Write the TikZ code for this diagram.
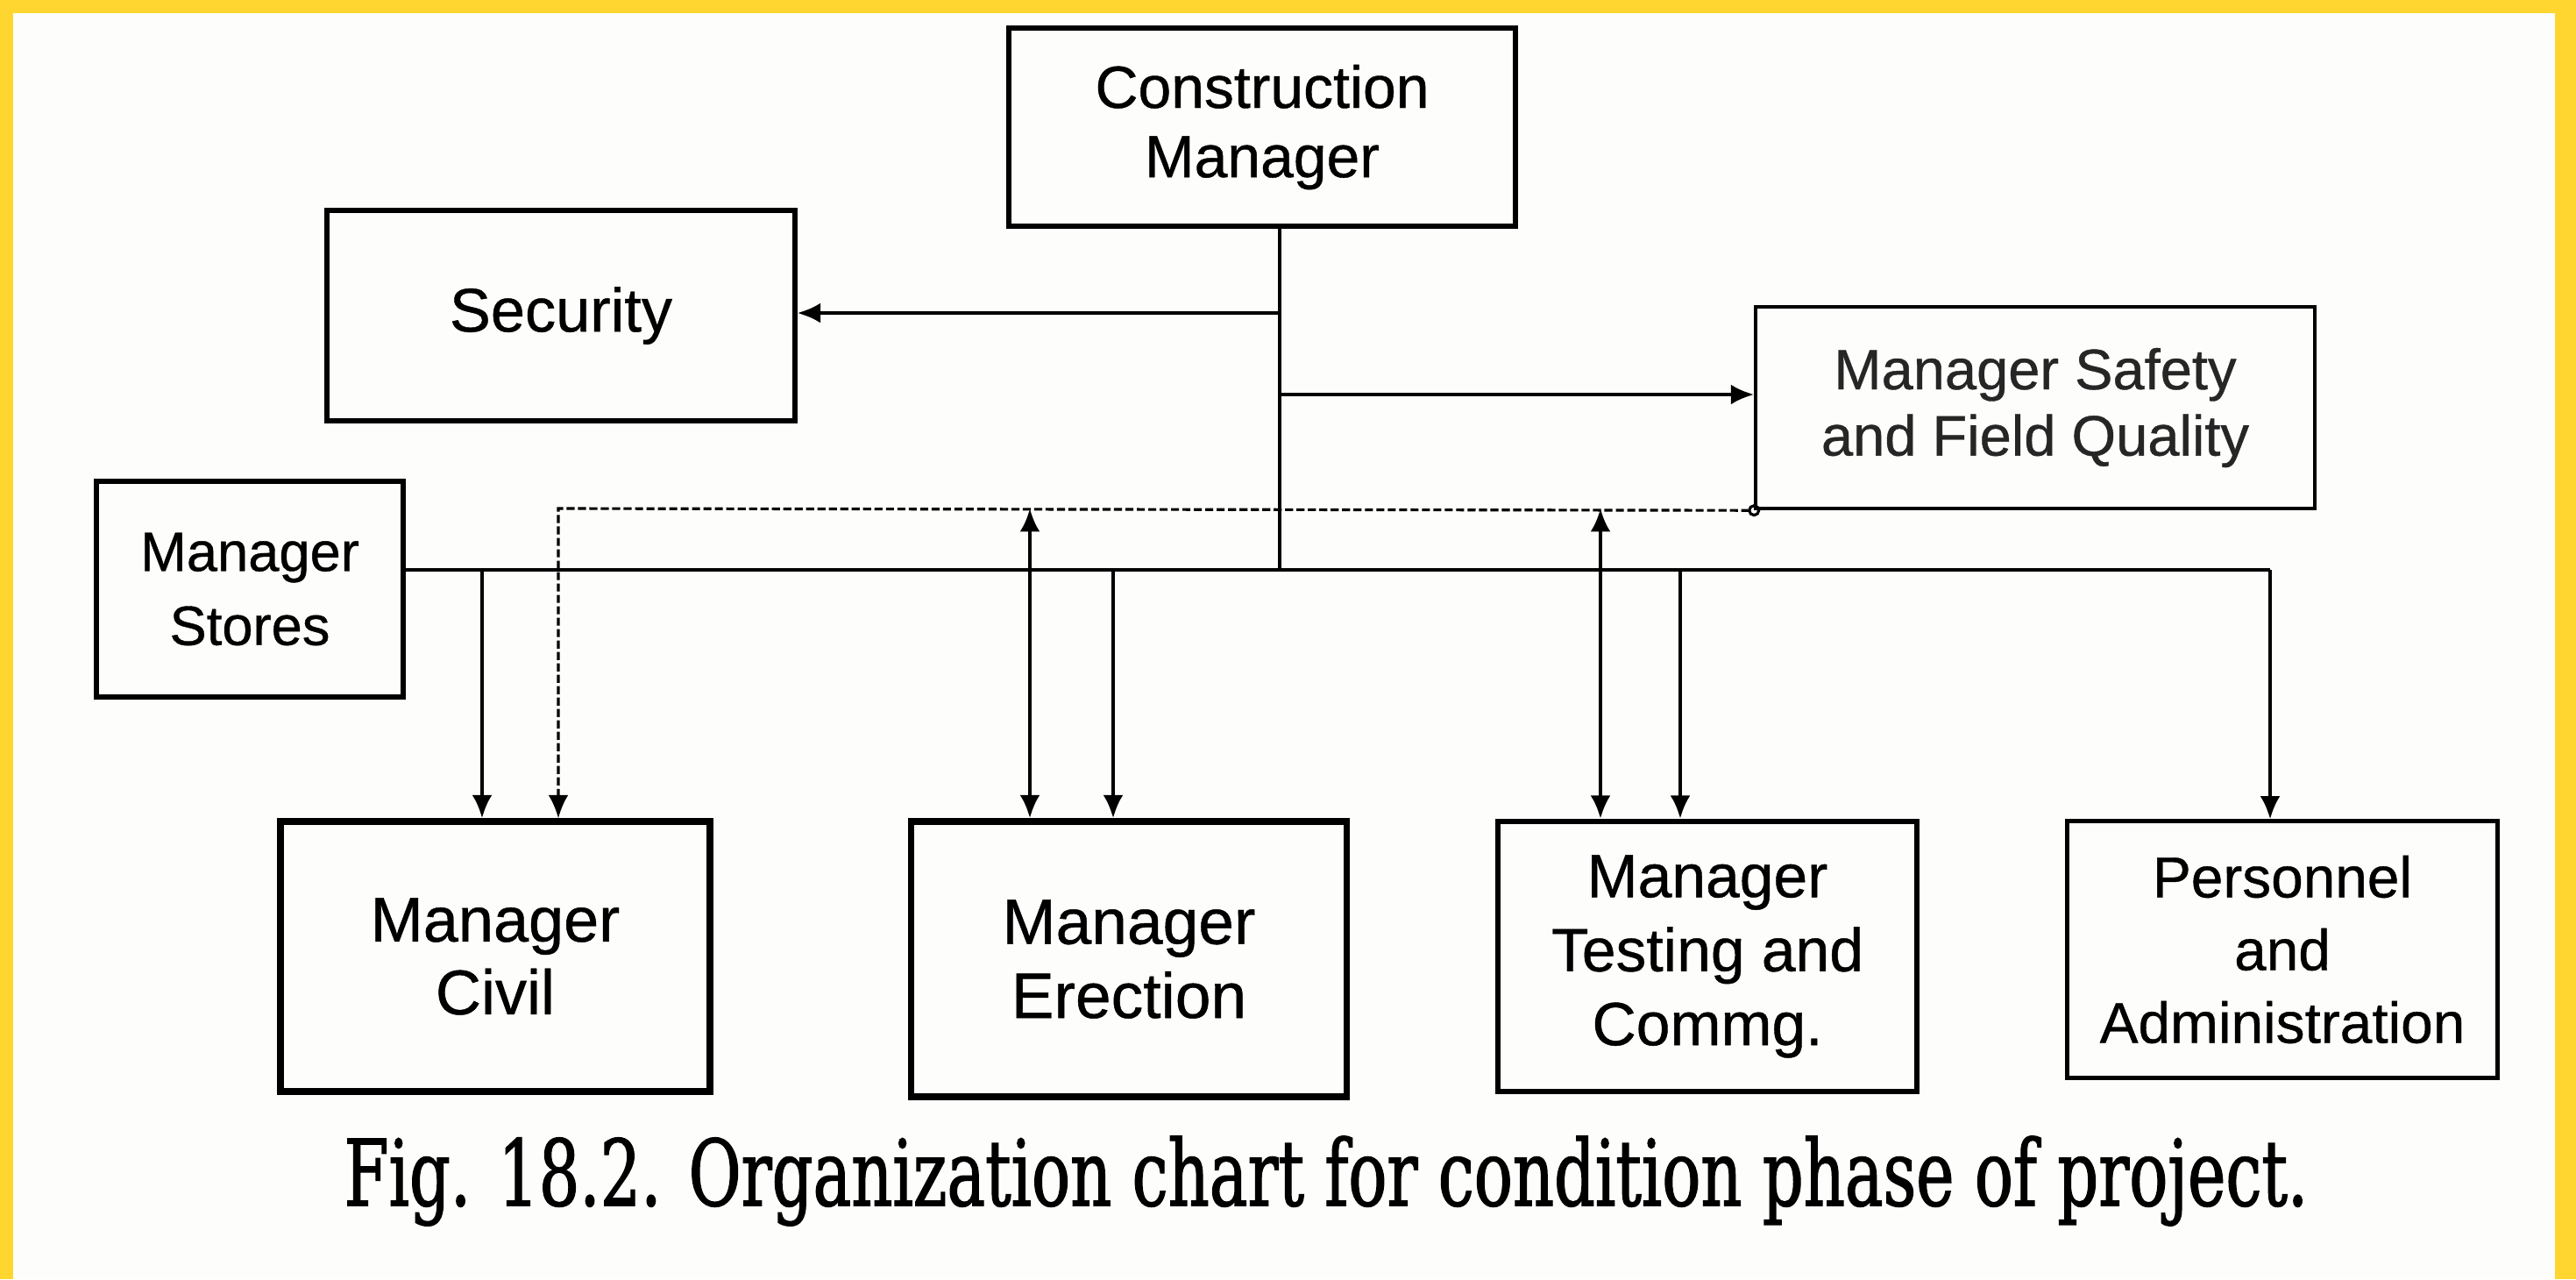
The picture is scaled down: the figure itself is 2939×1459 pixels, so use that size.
\documentclass[tikz,border=0pt]{standalone}
\usepackage{fontspec}
\setmainfont{Liberation Sans}[FakeBold=0.6]
\newfontfamily\capfont{DejaVu Serif}[FakeStretch=0.70,FakeBold=1.2]
\usetikzlibrary{arrows.meta}
\definecolor{bandyellow}{HTML}{FFD630}
\definecolor{paper}{HTML}{FDFDFB}
\begin{document}
\begin{tikzpicture}[x=0.01cm,y=-0.01cm,
  box/.style={draw, line width=#1, align=center, inner sep=0pt, text=black},
  box/.default=1.8pt,
  conn/.style={line width=1.15pt, draw=black},
  dconn/.style={line width=0.9pt, draw=black, dash pattern=on 2.6pt off 1.1pt},
  tip/.style={-{Latex[length=7.5pt,width=6.5pt]}},
  dtip/.style={{Latex[length=7.5pt,width=6.5pt]}-{Latex[length=7.5pt,width=6.5pt]}}
]
% background and yellow frame
\fill[paper] (0,0) rectangle (2939,1459);
\useasboundingbox (0,0) rectangle (2939,1459);
\fill[bandyellow] (0,0) rectangle (2939,15);
\fill[bandyellow] (0,0) rectangle (15,1459);
\fill[bandyellow] (2915,0) rectangle (2939,1459);

% boxes
\node[box=1.7pt, minimum width=5.77cm, minimum height=2.26cm,
  font=\fontsize{19.3pt}{22.5pt}\selectfont] (cm) at (1440,145) {Construction\\Manager};
\node[box=1.7pt, minimum width=5.33cm, minimum height=2.39cm,
  font=\fontsize{20pt}{23pt}\selectfont] (sec) at (640,360) {Security};
\node[box=1.2pt, minimum width=6.37cm, minimum height=2.30cm,
  font=\fontsize{18.5pt}{21.5pt}\selectfont, text=black!85] (saf) at (2322,465) {Manager Safety\\and Field Quality};
\node[box=1.7pt, minimum width=3.49cm, minimum height=2.45cm,
  font=\fontsize{18pt}{24pt}\selectfont] (stores) at (285,672) {Manager\\Stores};
\node[box=2.1pt, minimum width=4.90cm, minimum height=3.08cm,
  font=\fontsize{20.5pt}{23.6pt}\selectfont] (civil) at (565,1091) {Manager\\Civil};
\node[box=2.1pt, minimum width=4.97cm, minimum height=3.14cm,
  font=\fontsize{20.8pt}{24pt}\selectfont] (erec) at (1288,1094) {Manager\\Erection};
\node[box=1.8pt, minimum width=4.78cm, minimum height=3.08cm,
  font=\fontsize{19.8pt}{24pt}\selectfont] (test) at (1948,1091) {Manager\\Testing and\\Commg.};
\node[box=1.4pt, minimum width=4.90cm, minimum height=2.92cm,
  font=\fontsize{18.7pt}{23.6pt}\selectfont] (pers) at (2604,1083) {Personnel\\and\\Administration};

% junction coordinates
\coordinate (jbus) at (1460,650);
\coordinate (jsec) at (1460,357);
\coordinate (jsaf) at (1460,450);
\coordinate (busR) at (2590,650);
\coordinate (dashL) at (637,580);
\coordinate (a1) at (550,650);
\coordinate (a3) at (1175,580);
\coordinate (a4) at (1270,650);
\coordinate (a5) at (1826,580);
\coordinate (a6) at (1917,650);

% connectors
\draw[conn] (cm.south -| jbus) -- (jbus);
\draw[conn,tip] (jsec) -- (jsec -| sec.east);
\draw[conn,tip] (jsaf) -- (jsaf -| saf.west);
\draw[conn] (stores.east |- jbus) -- (busR);
\draw[conn,tip] (busR) -- (busR |- pers.north);
\draw[conn,tip] (a1) -- (a1 |- civil.north);
\draw[conn,tip] (a4) -- (a4 |- erec.north);
\draw[conn,tip] (a6) -- (a6 |- test.north);
\draw[conn,dtip] (a3) -- (a3 |- erec.north);
\draw[conn,dtip] (a5) -- (a5 |- test.north);
\draw[dconn,{Circle[open,length=4pt,sep=-2pt]}-{Latex[length=7.5pt,width=6.5pt]}]
  (saf.south west) -- (dashL) -- (dashL |- civil.north);

% caption
\node[font=\capfont, inner sep=0pt] (cap) at (1513,1347)
  {\resizebox{22.39cm}{!}{Fig. 18.2. Organization chart for condition phase of project.}};
\end{tikzpicture}
\end{document}
